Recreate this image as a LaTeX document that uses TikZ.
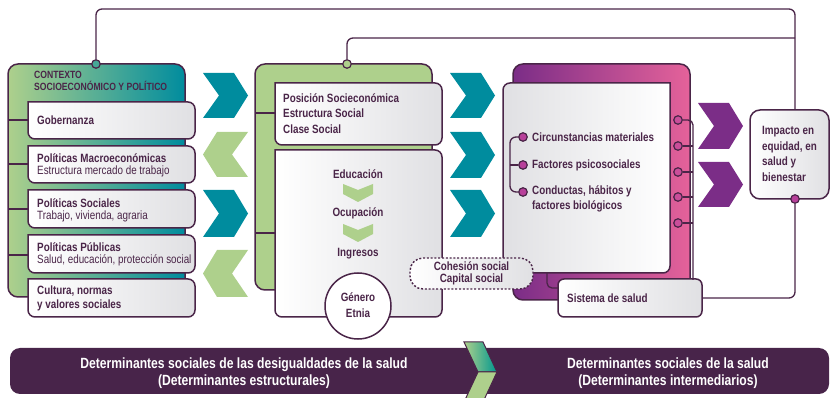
\documentclass[tikz,border=0pt]{standalone}
\usepackage{fontspec}
\setmainfont{Liberation Sans}[FakeStretch=0.82]
\definecolor{dk}{HTML}{4A2548}
\definecolor{tealc}{HTML}{008C9E}
\definecolor{lgr}{HTML}{AED08C}
\definecolor{purp}{HTML}{7B2D87}
\definecolor{pinkc}{HTML}{E5629A}
\definecolor{mag}{HTML}{B8409A}
\definecolor{ban}{HTML}{48244A}
\definecolor{lgrey}{HTML}{E0E0E3}
\tikzset{
  conn/.style={draw=dk, line width=1.3pt},
  frame/.style={draw=dk, line width=1.5pt},
  txt/.style={text=dk, font=\fontsize{12}{15}\selectfont\bfseries, anchor=west, inner sep=0pt, align=left},
  sub/.style={text=dk, font=\fontsize{12}{13}\selectfont, anchor=west, inner sep=0pt},
  dot/.style={circle, draw=dk, line width=1.2pt, fill=mag, inner sep=0pt, minimum size=8.5pt},
}
\newcommand\myRbox[4]{\shadedraw[frame, left color=white, right color=lgrey] (#1,#2) [rounded corners=7pt] -- (#3,#2) -- (#3,#4) -- (#1,#4) [sharp corners] -- cycle;}
\newcommand\myLbox[4]{\shadedraw[frame, left color=lgrey, right color=white] (#3,#2) [rounded corners=7pt] -- (#1,#2) -- (#1,#4) -- (#3,#4) [sharp corners] -- cycle;}
\newcommand\chevR[4]{\fill[#4] (#1,#2) -- ({#1+31},#2) -- ({#1+45},{#2+#3/2}) -- ({#1+31},{#2+#3}) -- (#1,{#2+#3}) -- ({#1+16},{#2+#3/2}) -- cycle;}
\newcommand\chevL[4]{\fill[#4] ({#1+45},#2) -- ({#1+14},#2) -- (#1,{#2+#3/2}) -- ({#1+14},{#2+#3}) -- ({#1+45},{#2+#3}) -- ({#1+29},{#2+#3/2}) -- cycle;}
\newcommand\chevD[3]{\fill[#3] ({#1-15},#2) -- (#1,{#2+6}) -- ({#1+15},#2) -- ({#1+15},{#2+10}) -- (#1,{#2+18}) -- ({#1-15},{#2+10}) -- cycle;}
\begin{document}
\begin{tikzpicture}[x=1pt,y=-1pt]
\useasboundingbox (0,0) rectangle (831,398);

% ---------- Box 1: contexto ----------
\shadedraw[frame, left color=lgr, right color=tealc, rounded corners=10pt] (8,64) rectangle (185,297);
\foreach \yy in {120,164,209,255} \draw[conn] (8,\yy) -- (28,\yy);
\myRbox{28}{102}{195}{139}
\myRbox{28}{146}{195}{183}
\myRbox{28}{190}{195}{228}
\myRbox{28}{235}{195}{273}
\myRbox{28}{279}{195}{317}
\node[txt, font=\fontsize{10.5}{11.5}\selectfont\bfseries, anchor=north west] (ctx) at (34,71) {CONTEXTO\\SOCIOECONÓMICO Y POLÍTICO};
\node[txt] (gob) at (37,120) {Gobernanza};
\node[txt] (mac) at (37,158) {Políticas Macroeconómicas};
\node[sub] (mac2) at (37,171) {Estructura mercado de trabajo};
\node[txt] (soc) at (37,203) {Políticas Sociales};
\node[sub] (soc2) at (37,216) {Trabajo, vivienda, agraria};
\node[txt] (pub) at (37,247) {Políticas Públicas};
\node[sub] (pub2) at (37,260) {Salud, educación, protección social};
\node[txt, font=\fontsize{12}{14}\selectfont\bfseries] (cul) at (37,298) {Cultura, normas\\y valores sociales};

% arrows box1-box2
\chevR{203}{73}{45}{tealc}
\chevL{203}{132}{45}{lgr}
\chevR{203}{190}{47}{tealc}
\chevL{203}{250}{47}{lgr}

% ---------- Box 2 ----------
\filldraw[frame, fill=lgr, rounded corners=10pt] (255,64) rectangle (432,290);
\draw[conn] (255,113) -- (275,113);
\draw[conn] (255,233) -- (275,233);
\myRbox{275}{83}{442}{145}
\myRbox{275}{150}{442}{317}
\node[txt, font=\fontsize{12}{15.5}\selectfont\bfseries] (pos) at (283,113.5) {Posición Socieconómica\\Estructura Social\\Clase Social};
\node[txt, anchor=center] (edu) at (358,174) {Educación};
\chevD{358}{184}{lgr}
\node[txt, anchor=center] (ocu) at (358,213) {Ocupación};
\chevD{358}{224}{lgr}
\node[txt, anchor=center] (ing) at (358,254) {Ingresos};
\node[circle, frame, fill=white, minimum size=66pt, inner sep=0pt] (gen) at (358,306) {};
\node[txt, anchor=center, align=center, font=\fontsize{12}{16}\selectfont\bfseries] (gentxt) at (358,305) {Género\\Etnia};

% arrows box2-box3
\chevR{450}{73}{45}{tealc}
\chevR{450}{132}{46}{tealc}
\chevR{450}{190}{47}{tealc}

% ---------- Box 3 ----------
\shadedraw[frame, left color=purp, right color=pinkc, rounded corners=10pt] (513,64) rectangle (690,300);
\draw[conn, rounded corners=5pt] (547,270) |- (560,288);
\myLbox{503}{83}{670}{273}
\node[draw=dk, line width=1.5pt, rounded corners=6pt, left color=white, right color=lgrey, minimum width=144pt, minimum height=38pt, inner sep=0pt] (sis) at (630,298) {};
\node[txt] (sistxt) at (567,298) {Sistema de salud};

\node[dot] (m1) at (523,137) {};
\node[dot] (m2) at (523,165) {};
\node[dot] (m3) at (523,192) {};
\draw[conn, rounded corners=6pt] (m1.west) -| (510,165) |- (m3.west);
\draw[conn] (m2.west) -- (510,165);
\node[txt] (cir) at (532,137) {Circunstancias materiales};
\node[txt] (fac) at (532,165) {Factores psicosociales};
\node[txt, font=\fontsize{12}{15}\selectfont\bfseries, anchor=north west] (con) at (532,186) {Conductas, hábitos y\\factores biológicos};

\coordinate (rb) at (693,280);
\foreach \i/\yy in {1/120,2/146,3/172,4/197,5/223}
  \node[dot, fill=mag!60!pinkc] (r\i) at (678,\yy) {};
\draw[conn, rounded corners=5pt] (r1.east) -| (rb);
\foreach \i in {2,3,4,5} \draw[conn] (r\i.east) -- (r\i.east -| rb);

% Cohesion social
\node[draw=dk, line width=1.4pt, dash pattern=on 2pt off 1.8pt, rounded corners=13pt, left color=white, right color=lgrey, minimum width=123pt, minimum height=31pt, inner sep=0pt, align=center, text=dk, font=\fontsize{12}{12}\selectfont\bfseries] (coh) at (471.5,273.5) {Cohesión social\\Capital social};

% arrows box3-impact
\chevR{698}{103}{46}{purp}
\chevR{698}{162}{45}{purp}

% ---------- Impacto ----------
\node[draw=dk, line width=1.5pt, rounded corners=10pt, left color=white, right color=lgrey, minimum width=79pt, minimum height=89pt, inner sep=0pt] (imp) at (789.5,154.5) {};
\node[txt, font=\fontsize{12}{15.5}\selectfont\bfseries] (imptxt) at (762,154) {Impacto en\\equidad, en\\salud y\\bienestar};
\node[dot] (ib) at (795,199) {};

% top circles
\node[dot, fill=tealc!60!lgr] (c1) at (96,64) {};
\node[dot, fill=lgr] (c2) at (347,64) {};

% connectors
\draw[conn, rounded corners=6pt] (c1.north) |- (795,9) -- (imp.north -| ib);
\draw[conn, rounded corners=6pt] (c2.north) |- (795,38);
\draw[conn, rounded corners=6pt] (ib.south) |- (sis.east);

% ---------- Banner ----------
\fill[ban, rounded corners=10pt] (10,348) rectangle (829,394);
\node[text=white, font=\fontsize{14.8}{17}\selectfont\bfseries, align=center] (b1) at (244,373) {Determinantes sociales de las desigualdades de la salud\\(Determinantes estructurales)};
\node[text=white, font=\fontsize{14.8}{17}\selectfont\bfseries, align=center] (b2) at (668,373) {Determinantes sociales de la salud\\(Determinantes intermediarios)};
\shadedraw[draw=dk, line width=1pt, left color=lgr, right color=tealc!90!green] (464,342) -- (483,342) -- (497,372) -- (478,372) -- cycle;
\filldraw[draw=dk, line width=1pt, fill=lgr] (478,372) -- (497,372) -- (483,402) -- (464,402) -- cycle;
\end{tikzpicture}
\end{document}
